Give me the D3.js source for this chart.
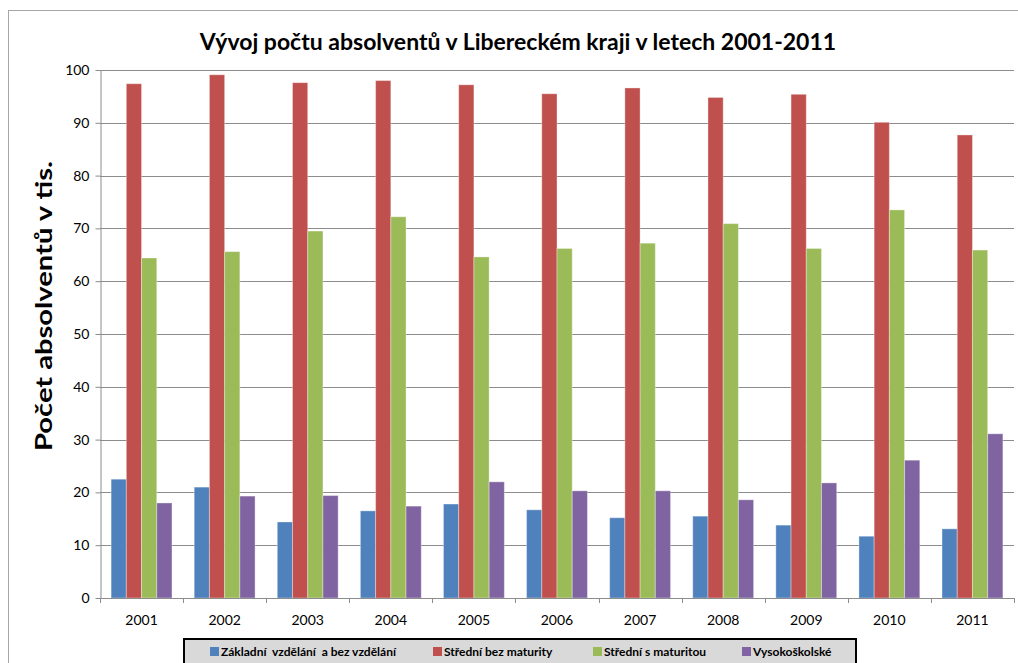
<!DOCTYPE html>
<html>
<head>
<meta charset="utf-8">
<script src="https://cdn.jsdelivr.net/npm/d3@7"></script>
<style>
  body { margin: 0; background: #fff; }
  svg { display: block; font-family: Lato, "Open Sans", sans-serif; }
</style>
</head>
<body>
<svg id="chart" width="1018" height="663"></svg>
<script>
// data (thousands of graduates)
var years = ["2001","2002","2003","2004","2005","2006","2007","2008","2009","2010","2011"];
var series = ["Základní  vzdělání  a bez vzdělání", "Střední bez maturity", "Střední s maturitou", "Vysokoškolské"];
var colors = ["#4f81bd", "#c0504d", "#9bbb59", "#8064a2"];
var zakladni = [22.5, 21.0, 14.4, 16.5, 17.8, 16.7, 15.2, 15.5, 13.8, 11.7, 13.1];
var bezMaturity = [97.4, 99.1, 97.6, 98.0, 97.2, 95.5, 96.6, 94.8, 95.4, 90.1, 87.7];
var sMaturitou = [64.4, 65.6, 69.5, 72.2, 64.6, 66.2, 67.2, 70.9, 66.2, 73.5, 65.9];
var vysokoskolske = [18.0, 19.3, 19.4, 17.4, 22.0, 20.3, 20.3, 18.6, 21.8, 26.1, 31.1];
var yTicks = [0,10,20,30,40,50,60,70,80,90,100];

var values = [zakladni, bezMaturity, sMaturitou, vysokoskolske];
var svg = d3.select("#chart");

// outer chart frame
svg.append("rect")
    .attr("x", 8.5).attr("y", 10.5)
    .attr("width", 1030).attr("height", 700)
    .attr("fill", "none").attr("stroke", "#a6a6a6");

var plotLeft = 100, plotRight = 1014, plotTop = 70, plotBottom = 598;

var y = d3.scaleLinear().domain([0,100]).range([plotBottom, plotTop]);
var x0 = d3.scaleBand().domain(years).range([plotLeft, plotRight]);
var x1 = d3.scaleBand().domain(d3.range(series.length)).range([0, x0.bandwidth()]).paddingOuter(0.73);

// gridlines
svg.append("g").selectAll("line").data(yTicks.slice(1)).join("line")
    .attr("x1", plotLeft).attr("x2", plotRight)
    .attr("y1", function(d){ return Math.round(y(d)) + 0.5; })
    .attr("y2", function(d){ return Math.round(y(d)) + 0.5; })
    .attr("stroke", "#8c8c8c").attr("stroke-width", 1);

// bars
var groups = svg.append("g").selectAll("g").data(years).join("g")
    .attr("transform", function(d){ return "translate(" + x0(d) + ",0)"; });

groups.selectAll("rect")
    .data(function(d, i){ return values.map(function(v, s){ return {s: s, v: v[i]}; }); })
    .join("rect")
    .attr("x", function(d){ return x1(d.s); })
    .attr("width", x1.bandwidth())
    .attr("y", function(d){ return y(d.v); })
    .attr("height", function(d){ return plotBottom - y(d.v); })
    .attr("fill", function(d){ return colors[d.s]; })
    .attr("stroke", "rgba(255,255,255,0.35)").attr("stroke-width", 1);

// y axis
var yAxis = svg.append("g")
    .attr("transform", "translate(" + (plotLeft + 0.5) + ",0)")
    .call(d3.axisLeft(y).tickValues(yTicks).tickSize(5).tickSizeOuter(0).tickPadding(6));
yAxis.select(".domain").attr("stroke", "#8c8c8c");
yAxis.selectAll(".tick line").attr("stroke", "#8c8c8c");
yAxis.selectAll(".tick text").attr("font-size", 14).attr("fill", "#000")
    .attr("font-family", "Lato, sans-serif");

// x axis line and boundary ticks
svg.append("line")
    .attr("x1", plotLeft).attr("x2", plotRight)
    .attr("y1", plotBottom + 0.5).attr("y2", plotBottom + 0.5)
    .attr("stroke", "#8c8c8c");
svg.append("g").selectAll("line").data(years.concat(["end"])).join("line")
    .attr("x1", function(d, i){ return Math.round(plotLeft + i * x0.step()) + 0.5; })
    .attr("x2", function(d, i){ return Math.round(plotLeft + i * x0.step()) + 0.5; })
    .attr("y1", plotBottom).attr("y2", plotBottom + 5)
    .attr("stroke", "#8c8c8c");
svg.append("g").selectAll("text").data(years).join("text")
    .attr("x", function(d){ return x0(d) + x0.bandwidth() / 2; })
    .attr("y", 625)
    .attr("text-anchor", "middle")
    .attr("font-size", 14)
    .text(function(d){ return d; });

// title
svg.append("text")
    .attr("x", 518).attr("y", 50)
    .attr("text-anchor", "middle")
    .attr("font-size", 23).attr("font-weight", "bold")
    .text("Vývoj počtu absolventů v Libereckém kraji v letech 2001-2011");

// y axis title
svg.append("text")
    .attr("transform", "translate(52,306) rotate(-90)")
    .attr("text-anchor", "middle")
    .attr("font-size", 23).attr("font-weight", "bold")
    .attr("textLength", 290).attr("lengthAdjust", "spacingAndGlyphs")
    .text("Počet absolventů v tis.");

// legend
var legend = svg.append("g");
legend.append("rect")
    .attr("x", 184).attr("y", 639)
    .attr("width", 672).attr("height", 40)
    .attr("fill", "#d9d9d9").attr("stroke", "#000").attr("stroke-width", 2);
var legendX = [210, 433, 593, 742];
var items = legend.selectAll("g").data(series).join("g")
    .attr("transform", function(d, i){ return "translate(" + legendX[i] + ",647)"; });
items.append("rect")
    .attr("width", 9).attr("height", 9)
    .attr("fill", function(d, i){ return colors[i]; });
items.append("text")
    .attr("x", 11).attr("y", 9)
    .attr("font-size", 12).attr("font-weight", "bold")
    .style("white-space", "pre")
    .text(function(d){ return d; });
</script>
</body>
</html>
